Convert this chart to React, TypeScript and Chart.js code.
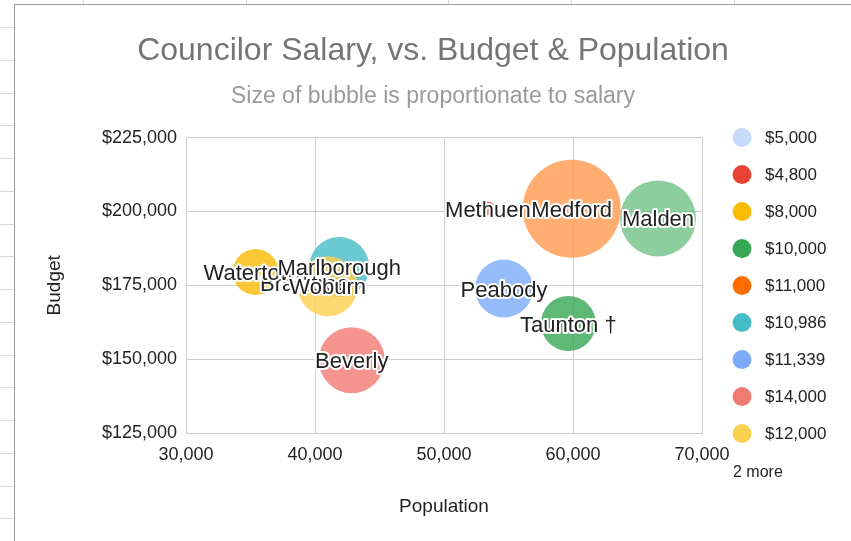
import React, { useEffect, useRef } from "react";
import { Chart, registerables } from "chart.js";

Chart.register(...registerables);

const FONT = "'Liberation Sans', Arial, Helvetica, sans-serif";

const chartTitle = "Councilor Salary, vs. Budget & Population";
const chartSubtitle = "Size of bubble is proportionate to salary";
const xAxisTitle = "Population";
const yAxisTitle = "Budget";
const moreNote = "2 more";

// one series per salary group (legend order)
const salaryLabels = ["$5,000", "$4,800", "$8,000", "$10,000", "$11,000", "$10,986", "$11,339", "$14,000", "$12,000", "", ""];
const cities = ["Braintree", "Methuen", "Watertown", "Taunton \u2020", "", "Marlborough", "Peabody", "Beverly", "Woburn", "Malden", "Medford"];
const populations = [39200, 53400, 35400, 59640, null, 41880, 54650, 42850, 40980, 66590, 59900];
const budgets = [175700, 201000, 179500, 162060, null, 181180, 173890, 149660, 174660, 197640, 200910];
const bubbleRadius = [7, 7, 23, 27.5, null, 30, 29, 33, 30, 38, 49];
const seriesColors = ["#c6dafc", "#ea4335", "#fbbc04", "#34a853", "#ff6d01", "#46bdc6", "#7baaf7", "#f07b72", "#fcd04f", "#71c287", "#ff994d"];
const legendShown = 9;

const xMin = 30000, xMax = 70000, xStep = 10000;
const yMin = 125000, yMax = 225000, yStep = 25000;

function withAlpha(hex: string, a: number) {
  const n = parseInt(hex.slice(1), 16);
  return `rgba(${(n >> 16) & 255},${(n >> 8) & 255},${n & 255},${a})`;
}

const labelPlugin = {
  id: "bubbleLabels",
  afterDatasetsDraw(chart: any) {
    const ctx = chart.ctx;
    ctx.save();
    ctx.font = `22px ${FONT}`;
    ctx.textAlign = "center";
    ctx.textBaseline = "middle";
    ctx.lineJoin = "round";
    ctx.lineWidth = 4;
    ctx.strokeStyle = "#ffffff";
    ctx.fillStyle = "#222222";
    chart.data.datasets.forEach((ds: any, i: number) => {
      const meta = chart.getDatasetMeta(i);
      meta.data.forEach((el: any) => {
        const text = cities[i];
        if (!text) return;
        ctx.strokeText(text, el.x, el.y + 2);
        ctx.fillText(text, el.x, el.y + 2);
      });
    });
    ctx.restore();
  },
};

const legendPlugin = {
  id: "sideLegend",
  afterDraw(chart: any) {
    const ctx = chart.ctx;
    const area = chart.chartArea;
    ctx.save();
    const markerX = area.right + 40;
    const textX = area.right + 63;
    const rowH = 37;
    ctx.textBaseline = "middle";
    ctx.textAlign = "left";
    ctx.font = `17px ${FONT}`;
    for (let i = 0; i < legendShown; i++) {
      const y = area.top + i * rowH;
      ctx.beginPath();
      ctx.arc(markerX, y, 9.5, 0, Math.PI * 2);
      ctx.fillStyle = seriesColors[i];
      ctx.fill();
      ctx.fillStyle = "#222222";
      ctx.fillText(salaryLabels[i], textX, y + 1);
    }
    ctx.font = `16px ${FONT}`;
    ctx.fillStyle = "#222222";
    ctx.fillText(moreNote, area.right + 31, area.top + legendShown * rowH + 2);
    ctx.restore();
  },
};

function ChartView() {
  const ref = useRef<HTMLCanvasElement | null>(null);
  useEffect(() => {
    if (!ref.current) return;
    const datasets = salaryLabels.map((lab, i) => ({
      label: lab,
      data: populations[i] == null ? [] : [{ x: populations[i] as number, y: budgets[i] as number, r: bubbleRadius[i] as number }],
      backgroundColor: withAlpha(seriesColors[i], 0.8),
      borderWidth: 0,
      hoverBorderWidth: 0,
      order: salaryLabels.length - i,
    }));
    const chart = new Chart(ref.current, {
      type: "bubble",
      data: { datasets },
      plugins: [labelPlugin, legendPlugin],
      options: {
        responsive: false,
        animation: false,
        devicePixelRatio: 1,
        layout: { padding: 0 },
        plugins: {
          legend: { display: false },
          tooltip: { enabled: false },
          title: {
            display: true,
            text: chartTitle,
            color: "#757575",
            font: { size: 32, family: FONT, weight: "normal" },
            padding: { top: 26.8, bottom: 0 },
          },
          subtitle: {
            display: true,
            text: chartSubtitle,
            color: "#9a9a9a",
            font: { size: 23, family: FONT, weight: "normal" },
            padding: { top: 13, bottom: 26.8 },
          },
        },
        scales: {
          x: {
            type: "linear",
            min: xMin,
            max: xMax,
            ticks: {
              stepSize: xStep,
              color: "#222222",
              font: { size: 18, family: FONT },
              padding: 11,
              callback: (v: any) => Number(v).toLocaleString("en-US"),
            },
            grid: { color: "#cccccc", drawTicks: false },
            border: { color: "#cccccc" },
            title: {
              display: true,
              text: xAxisTitle,
              color: "#222222",
              font: { size: 19, family: FONT },
              padding: { top: 0, bottom: 22.6 },
            },
            afterFit: (s: any) => { s.height = 108; },
          },
          y: {
            type: "linear",
            min: yMin,
            max: yMax,
            ticks: {
              stepSize: yStep,
              color: "#222222",
              font: { size: 18, family: FONT },
              padding: 9,
              callback: (v: any) => "$" + Number(v).toLocaleString("en-US"),
            },
            grid: { color: "#cccccc", drawTicks: false },
            border: { color: "#cccccc" },
            title: {
              display: true,
              text: yAxisTitle,
              color: "#222222",
              font: { size: 19, family: FONT },
              padding: { top: 28.6, bottom: 0 },
            },
            afterFit: (s: any) => { s.width = 171; },
          },
          legendSpace: {
            type: "linear",
            position: "right",
            display: true,
            ticks: { display: false },
            grid: { display: false, drawTicks: false },
            border: { display: false },
            title: { display: false },
            afterFit: (s: any) => { s.width = 149; },
          },
        },
      } as any,
    });
    return () => chart.destroy();
  }, []);
  return <canvas ref={ref} width={836} height={536} style={{ display: "block", width: 836, height: 536 }} />;
}

export default function App() {
  const rowLines = Array.from({ length: 16 }, (_, k) => 27 + k * 32.75);
  const colLines = [83, 246, 448, 571, 734];
  return (
    <div style={{ position: "fixed", left: 0, top: 0, width: 851, height: 541, background: "#ffffff", overflow: "hidden" }}>
      {rowLines.map((y, k) => (
        <div key={"r" + k} style={{ position: "absolute", left: 0, top: Math.round(y), width: 14, height: 1, background: "#dadada" }} />
      ))}
      {colLines.map((x, k) => (
        <div key={"c" + k} style={{ position: "absolute", left: x, top: 0, width: 1, height: 4, background: "#dadada" }} />
      ))}
      <div
        style={{
          position: "absolute",
          left: 14,
          top: 4,
          width: 837,
          height: 537,
          boxSizing: "border-box",
          borderLeft: "1px solid #9a9a9a",
          borderTop: "1px solid #9a9a9a",
          background: "#ffffff",
        }}
      >
        <ChartView />
      </div>
    </div>
  );
}
